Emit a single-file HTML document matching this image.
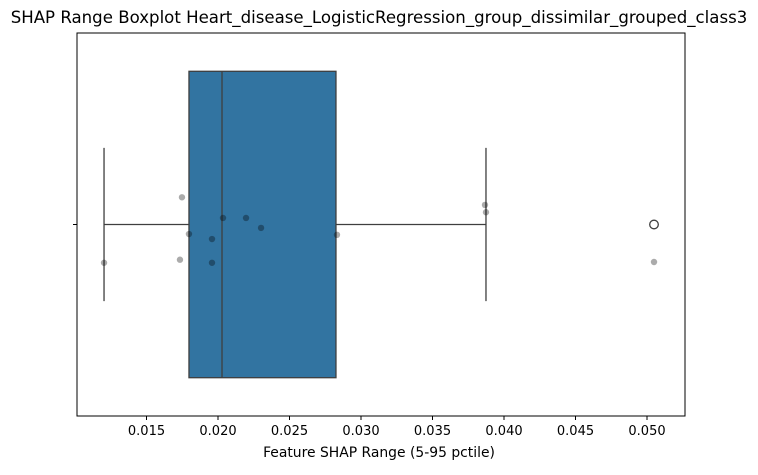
<!DOCTYPE html>
<html><head><meta charset="utf-8"><style>
body{margin:0;background:#fff;}
svg text{font-family:"DejaVu Sans","Liberation Sans",sans-serif;}
</style></head><body>
<svg id="chart" width="758" height="470" xmlns="http://www.w3.org/2000/svg">
<text x="379" y="23" text-anchor="middle" font-size="16.6" fill="#000">SHAP Range Boxplot Heart_disease_LogisticRegression_group_dissimilar_grouped_class3</text>
<g id="plot"></g>
<text x="379" y="457" text-anchor="middle" font-size="13.9" fill="#000">Feature SHAP Range (5-95 pctile)</text>
</svg>
<script>
const tickValues=[0.015,0.020,0.025,0.030,0.035,0.040,0.045,0.050];
const tickLabels=["0.015","0.020","0.025","0.030","0.035","0.040","0.045","0.050"];
const boxStats=[0.01797,0.02028,0.02825];
const whiskerStats=[0.01203,0.03874];
const outliers=[0.05049];
const pointValues=[0.01748,0.01797,0.01203,0.01734,0.01958,0.01958,0.02035,0.02196,0.02301,0.02832,0.03867,0.03874,0.05049];
const pointJitter=[-0.075,0.021,0.096,0.088,0.034,0.096,-0.021,-0.021,0.005,0.023,-0.055,-0.036,0.094];

const L=77,R=685,T=33,B=416,CY=(T+B)/2,BAND=B-T;
const x=v=>146.5+(v-0.015)/0.005*71.5;
const y=j=>CY+j*BAND;
const NS="http://www.w3.org/2000/svg";
const g=document.getElementById('plot');
function mk(t,a){const e=document.createElementNS(NS,t);for(const k in a)e.setAttribute(k,a[k]);g.appendChild(e);return e;}
const half=0.4*BAND;
let e=mk('line',{x1:x(whiskerStats[0]),x2:x(boxStats[0]),y1:CY,y2:CY,stroke:'#3f3f3f','stroke-width':1.3});

e=mk('line',{x1:x(boxStats[2]),x2:x(whiskerStats[1]),y1:CY,y2:CY,stroke:'#3f3f3f','stroke-width':1.3});

for(const w of whiskerStats){e=mk('line',{x1:x(w),x2:x(w),y1:CY-half/2,y2:CY+half/2,stroke:'#3f3f3f','stroke-width':1.3});
}
e=mk('rect',{x:x(boxStats[0]),y:CY-half,width:x(boxStats[2])-x(boxStats[0]),height:2*half,fill:'#3274a1',stroke:'#3f3f3f','stroke-width':1.3});

e=mk('line',{x1:x(boxStats[1]),x2:x(boxStats[1]),y1:CY-half,y2:CY+half,stroke:'#3f3f3f','stroke-width':1.3});

for(const o of outliers){e=mk('circle',{cx:x(o),cy:CY,r:4.3,fill:'none',stroke:'#3f3f3f','stroke-width':1.3});
}
pointValues.forEach((v,i)=>{const c=mk('circle',{cx:x(v),cy:y(pointJitter[i])+1.5,r:3.2,fill:'rgba(0,0,0,0.33)'});

});
e=mk('rect',{x:L,y:T,width:R-L,height:B-T,fill:'none',stroke:'#000','stroke-width':1});

e=mk('line',{x1:L-4,x2:L,y1:CY,y2:CY,stroke:'#000'});

tickValues.forEach((v,i)=>{const t=mk('line',{x1:x(v),x2:x(v),y1:B,y2:B+4,stroke:'#000'});


const l=mk('text',{x:x(v),y:B+19,'text-anchor':'middle','font-size':'13',fill:'#000'});l.textContent=tickLabels[i];

});
</script>
</body></html>
